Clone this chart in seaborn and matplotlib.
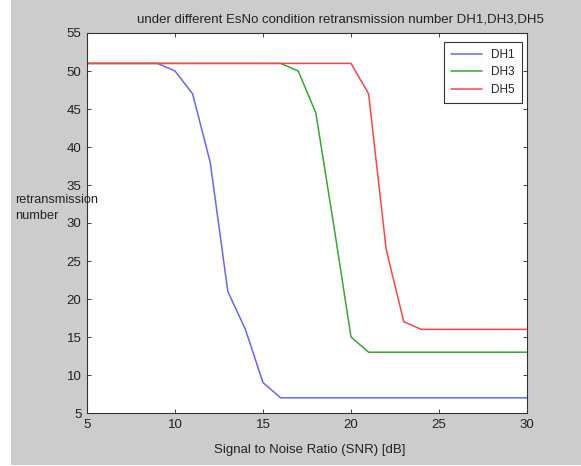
import matplotlib
matplotlib.use("Agg")
import matplotlib.pyplot as plt
import seaborn as sns
import pandas as pd
from matplotlib.patches import Rectangle

snr = [5, 6, 7, 8, 9, 10, 11, 12, 13, 14, 15, 16, 17, 18, 19, 20, 21, 22, 23, 24, 25, 26, 27, 28, 29, 30]
dh1 = [51, 51, 51, 51, 51, 50, 47, 38, 21, 16, 9, 7, 7, 7, 7, 7, 7, 7, 7, 7, 7, 7, 7, 7, 7, 7]
dh3 = [51, 51, 51, 51, 51, 51, 51, 51, 51, 51, 51, 51, 50, 44.5, 30, 15, 13, 13, 13, 13, 13, 13, 13, 13, 13, 13]
dh5 = [51, 51, 51, 51, 51, 51, 51, 51, 51, 51, 51, 51, 51, 51, 51, 51, 47, 26.5, 17, 16, 16, 16, 16, 16, 16, 16]
series_names = ["DH1", "DH3", "DH5"]
colors = ["#6666ff", "#33aa33", "#ff4444"]

df = pd.DataFrame({
    "snr": snr * 3,
    "value": dh1 + dh3 + dh5,
    "series": [series_names[0]] * len(snr) + [series_names[1]] * len(snr) + [series_names[2]] * len(snr),
})

sns.set_style("ticks")
plt.rcParams['font.family'] = ['Liberation Sans', 'DejaVu Sans']

fig = plt.figure(figsize=(5.81, 4.66), dpi=100, facecolor="white")
fig.patches.append(Rectangle((11 / 581, 1 / 466), 570 / 581, 465 / 466,
                             transform=fig.transFigure, facecolor="#cccccc",
                             edgecolor="none", zorder=-10))
ax = fig.add_axes([87 / 581, 53 / 466, 440 / 581, 380 / 466])
ax.set_facecolor("white")

sns.lineplot(data=df, x="snr", y="value", hue="series", palette=colors,
             linewidth=1.1, ax=ax)

# make sure the later series are drawn on top (DH5 over DH3 over DH1)
color_order = {c: i for i, c in enumerate(colors)}
for ln in ax.lines:
    c = matplotlib.colors.to_hex(ln.get_color())
    if c in color_order:
        ln.set_zorder(2 + color_order[c])

ax.set_xlim(5, 30)
ax.set_ylim(5, 55)
ax.set_xticks([5, 10, 15, 20, 25, 30])
ax.set_yticks(list(range(5, 56, 5)))
ax.tick_params(direction="in", top=True, right=True, labelsize=9.5, length=3,
               width=0.6, colors="#222222", pad=4)
for s in ax.spines.values():
    s.set_linewidth(0.8)
    s.set_color("#333333")
    s.set_visible(True)
    s.set_zorder(10)

ax.set_xlabel("")
ax.set_ylabel("")
fig.text(310 / 581, 1 - 450 / 466, "Signal to Noise Ratio (SNR) [dB]",
         fontsize=9.5, ha="center", va="center", color="#222222")
fig.text(15 / 581, 1 - 200 / 466, "retransmission", fontsize=9.2,
         ha="left", va="center", color="#222222")
fig.text(15 / 581, 1 - 216 / 466, "number", fontsize=9.2,
         ha="left", va="center", color="#222222")
fig.text(340 / 581, 1 - 20 / 466,
         "under different EsNo condition retransmission number DH1,DH3,DH5",
         fontsize=9.5, ha="center", va="center", color="#222222")

leg = ax.legend(title=None, loc="upper right", fontsize=8.5, frameon=True,
                fancybox=False, edgecolor="black", borderpad=0.6,
                borderaxespad=0, handlelength=2.6, handletextpad=0.8,
                labelspacing=0.45,
                bbox_to_anchor=((522 - 87) / 440, (413 - 42) / 380))
leg.get_frame().set_linewidth(0.8)
leg.set_zorder(20)

fig.savefig("out.png", dpi=100, facecolor=fig.get_facecolor())
